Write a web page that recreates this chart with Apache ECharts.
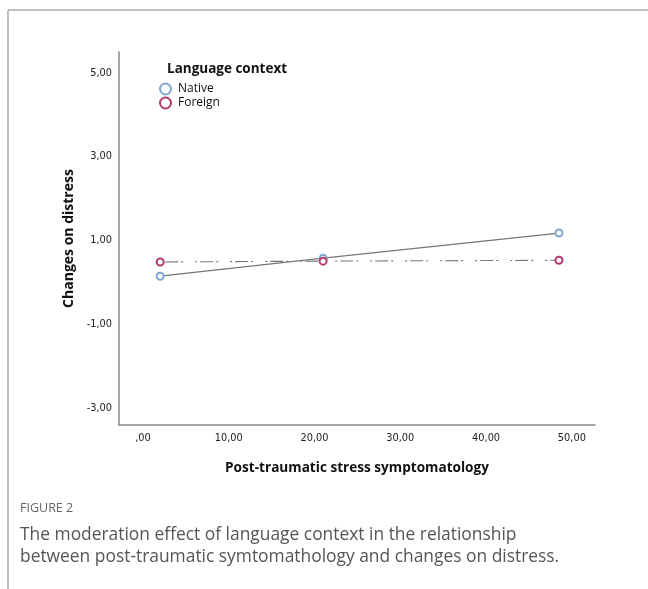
<!DOCTYPE html>
<html>
<head>
<meta charset="utf-8">
<script src="https://cdn.jsdelivr.net/npm/echarts@6/dist/echarts.min.js"></script>
<style>
  html, body { margin: 0; padding: 0; background: #fff; }
  #chart { width: 648px; height: 589px; }
</style>
</head>
<body>
<div id="chart"></div>
<script>
// Symptom levels (x) at which the moderation lines are evaluated
const symptomLevels = [2.0, 21.0, 48.5];
// Predicted change on distress per language context
const nativeValues = [0.15, 0.58, 1.18];
const foreignValues = [0.49, 0.51, 0.53];
// Tick labels
const xTicks = [0, 10, 20, 30, 40, 50];
const yTicks = [-3, -1, 1, 3, 5];
const seriesNames = ['Native', 'Foreign'];
const seriesColors = ['#7fa6cf', '#b23a6e'];

// SPSS-style number format: comma decimal, no leading zero
function fmt(v) {
  const s = Math.abs(v).toFixed(2).replace('.', ',');
  const t = s.startsWith('0,') ? s.slice(1) : s;
  return (v < 0 ? '-' : '') + t;
}

const chart = echarts.init(document.getElementById('chart'));
const tickFont = { fontFamily: 'DejaVu Sans', fontSize: 9.8, color: '#222' };
const nameFont = { fontFamily: 'Open Sans', fontSize: 13.6, fontWeight: 'bold', color: '#111' };

chart.setOption({
  animation: false,
  backgroundColor: '#fff',
  grid: { left: 119, right: 53, top: 52, bottom: 164 },
  xAxis: {
    type: 'value', min: -2.8, max: 52.7,
    splitLine: { show: false },
    axisTick: { show: false },
    axisLine: { onZero: false, lineStyle: { color: '#8a8a8a', width: 1.5 } },
    axisLabel: Object.assign({ customValues: xTicks, formatter: fmt, margin: 8 }, tickFont),
    name: 'Post-traumatic stress symptomatology',
    nameLocation: 'middle', nameGap: 36,
    nameTextStyle: nameFont
  },
  yAxis: {
    type: 'value', min: -3.4, max: 5.5,
    splitLine: { show: false },
    axisTick: { show: false },
    axisLine: { onZero: false, lineStyle: { color: '#8a8a8a', width: 1.5 } },
    axisLabel: Object.assign({ customValues: yTicks, formatter: fmt, margin: 7 }, tickFont),
    name: 'Changes on distress',
    nameLocation: 'middle', nameGap: 16, nameRotate: 90,
    nameTextStyle: Object.assign({}, nameFont, { fontSize: 14 })
  },
  legend: {
    orient: 'vertical', left: 159, top: 82, padding: 0,
    itemWidth: 11, itemHeight: 11, itemGap: 0,
    icon: 'emptyCircle',
    textStyle: { fontFamily: 'Open Sans', fontSize: 12, lineHeight: 14, color: '#111', padding: [0, 0, 0, 2] },
    data: seriesNames.map((n, i) => ({
      name: n, itemStyle: { color: seriesColors[i], borderColor: seriesColors[i], borderWidth: 1.3 }
    }))
  },
  graphic: [
    { type: 'text', left: 167, top: 62,
      style: { text: 'Language context', fontFamily: 'Open Sans', fontSize: 13.5, fontWeight: 'bold', fill: '#111' } },
    // figure frame
    { type: 'line', shape: { x1: 8, y1: 10, x2: 648, y2: 10 }, style: { stroke: '#aaa', lineWidth: 1.5 } },
    { type: 'line', shape: { x1: 8, y1: 10, x2: 8, y2: 589 }, style: { stroke: '#aaa', lineWidth: 1.5 } },
    { type: 'text', left: 20, top: 502,
      style: { text: 'FIGURE 2', fontFamily: 'Open Sans', fontSize: 12.5, fill: '#666' } },
    { type: 'text', left: 20, top: 524,
      style: { text: 'The moderation effect of language context in the relationship\nbetween post-traumatic symtomathology and changes on distress.',
               fontFamily: 'Open Sans', fontSize: 17.4, lineHeight: 22, fill: '#555' } }
  ],
  series: seriesNames.map((n, i) => ({
    name: n, type: 'line',
    data: symptomLevels.map((x, j) => [x, (i === 0 ? nativeValues : foreignValues)[j]]),
    symbol: 'emptyCircle', symbolSize: 7,
    itemStyle: { color: seriesColors[i], borderWidth: 1.2 },
    lineStyle: i === 0
      ? { color: '#777', width: 1.2 }
      : { color: '#777', width: 1.1, type: [2, 3, 13, 3, 2, 12] }
  }))
});
</script>
</body>
</html>
